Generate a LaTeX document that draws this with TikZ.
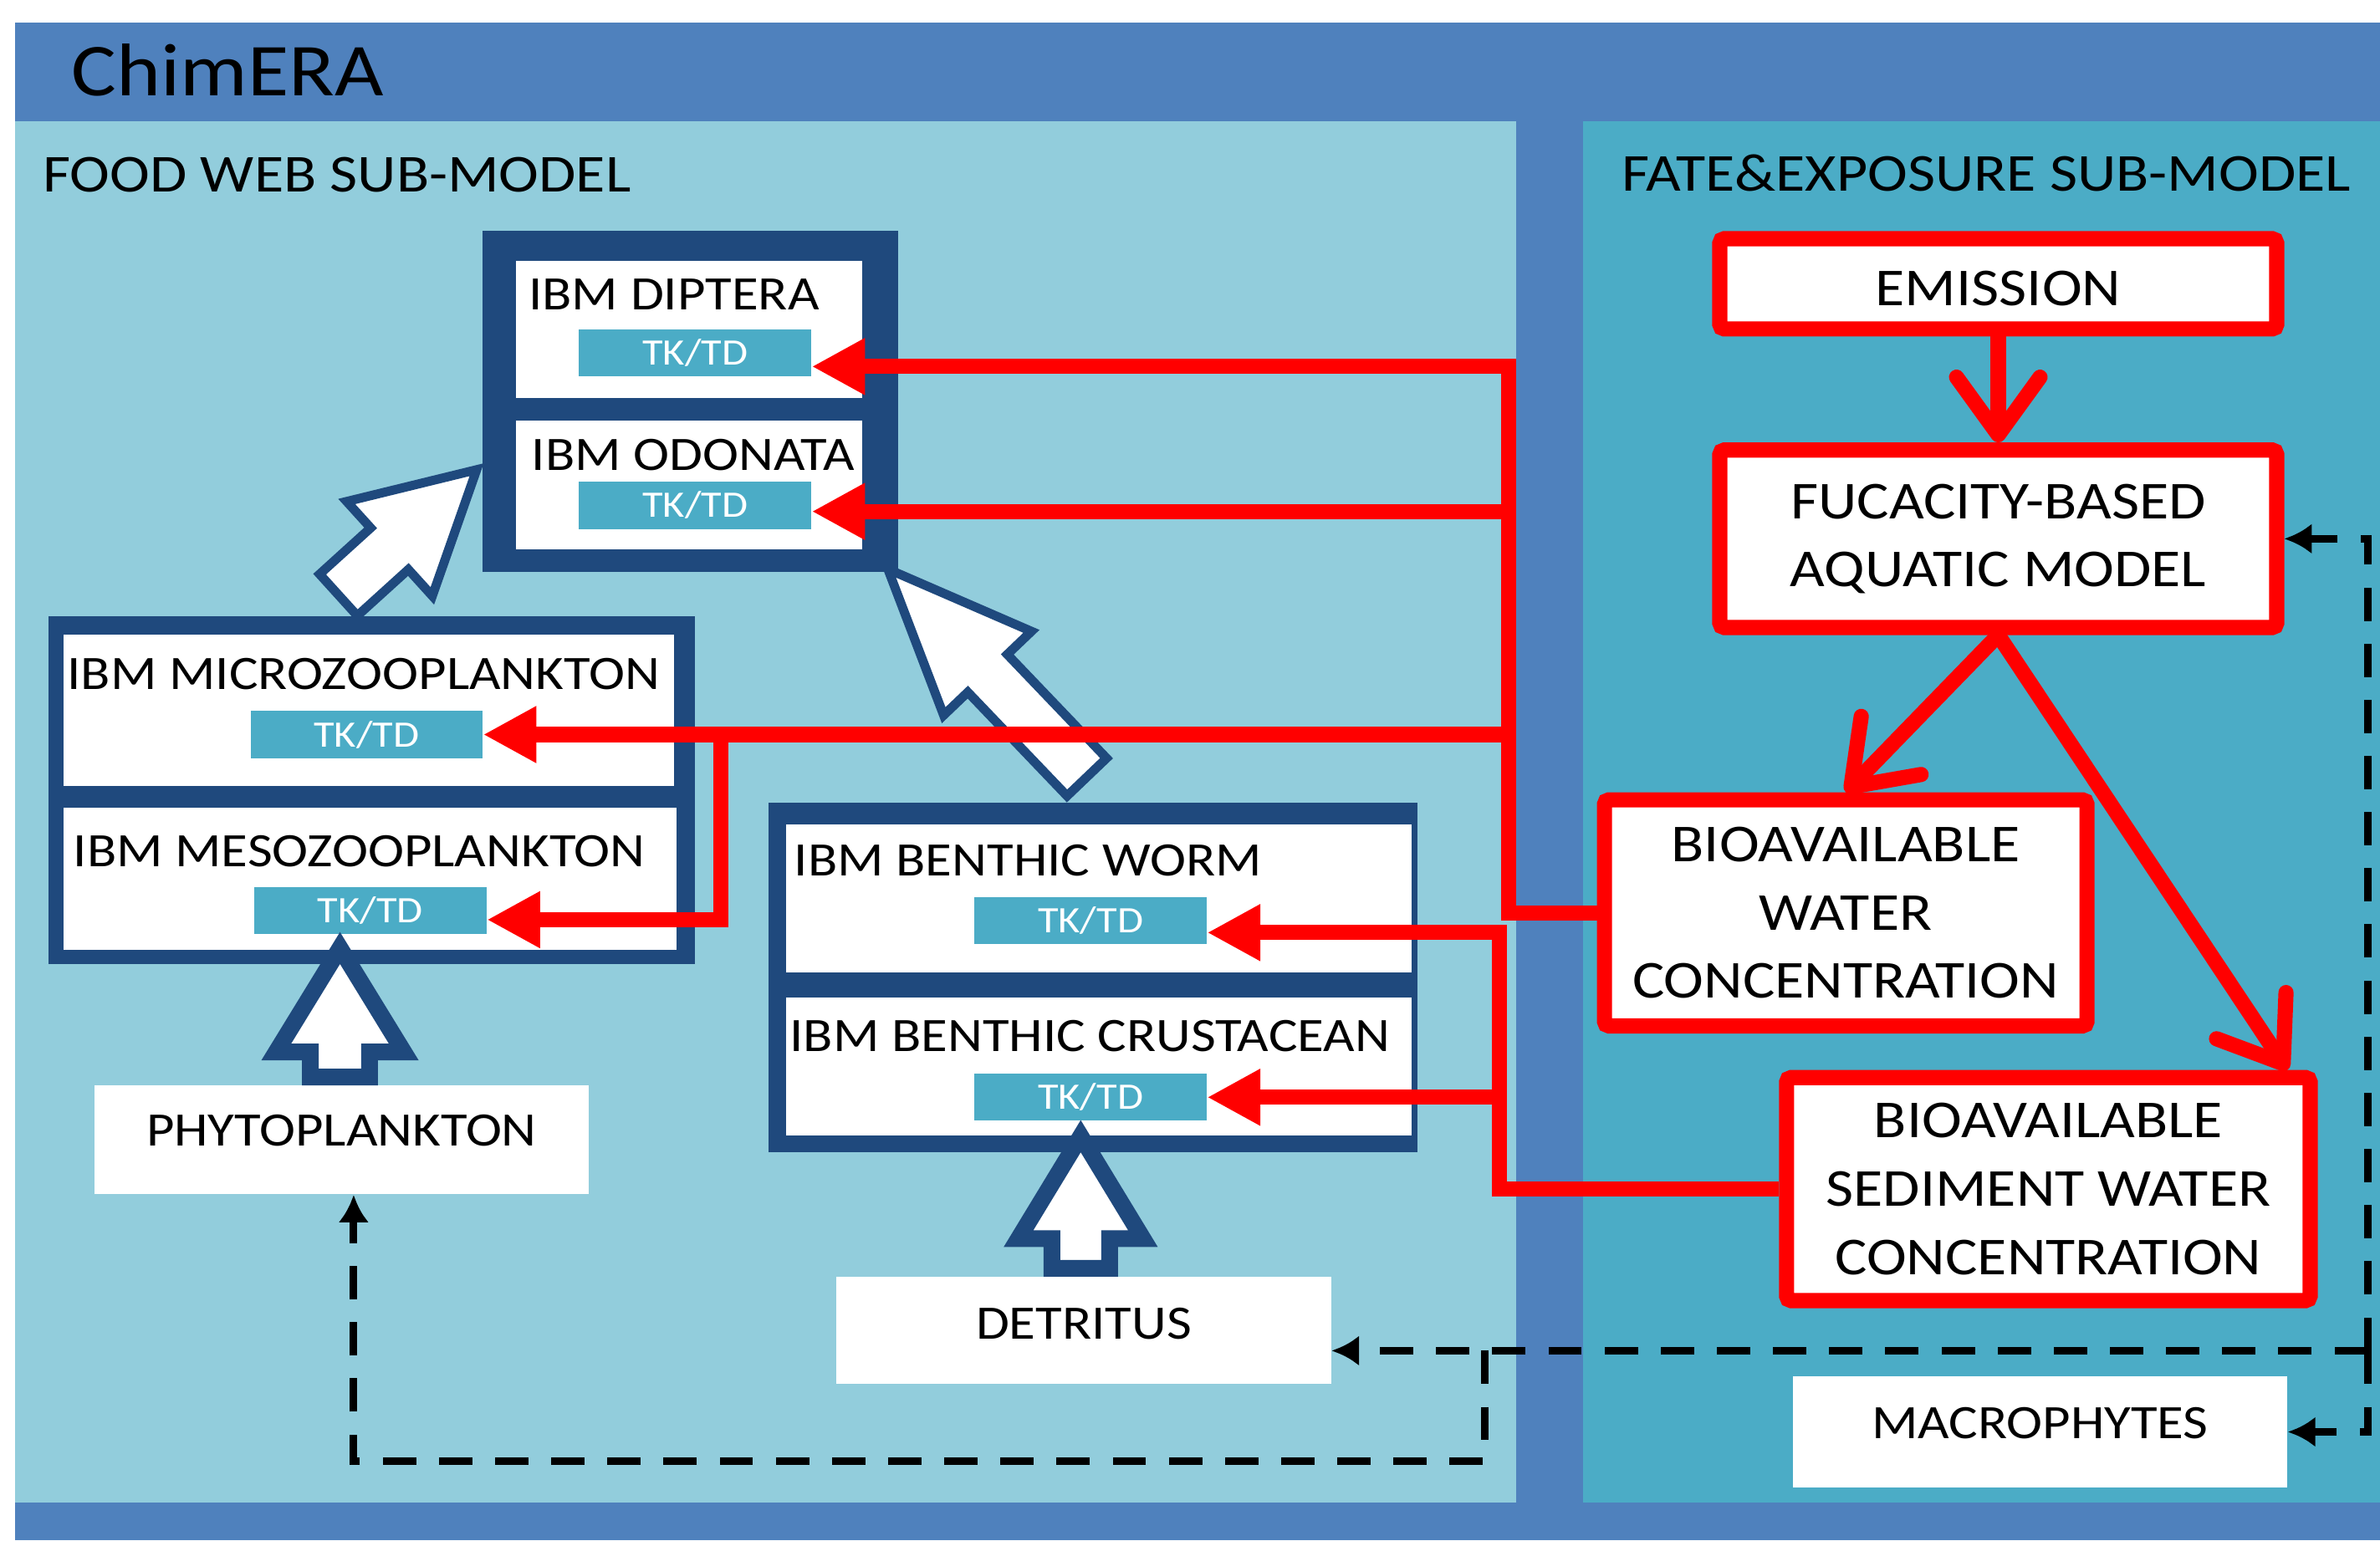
\documentclass[tikz,border=0pt]{standalone}
\usepackage{fontspec}
\setmainfont{Carlito}[FakeStretch=1.13]
\usetikzlibrary{arrows.meta}
\usetikzlibrary{calc}
\usetikzlibrary{positioning}

\definecolor{frameblue}{HTML}{4F81BD}
\definecolor{webpanel}{HTML}{92CDDC}
\definecolor{fatepanel}{HTML}{4BACC6}
\definecolor{ibmnavy}{HTML}{1F497D}
\definecolor{tkblue}{HTML}{4BACC6}

% hollow block arrow: [style]{tail}{tip}{shaft half width}{head half width}{head length}
\newcommand{\fatarrow}[6][]{%
	\coordinate (fa-t) at (#2);
	\coordinate (fa-p) at (#3);
	\coordinate (fa-h) at ($(fa-p)!#6!(fa-t)$);
	\draw[fatarrow,#1] ($(fa-t)!#4!90:(fa-p)$) -- ($(fa-h)!#4!90:(fa-p)$)
		-- ($(fa-h)!#5!90:(fa-p)$) -- (fa-p) -- ($(fa-h)!#5!-90:(fa-p)$)
		-- ($(fa-h)!#4!-90:(fa-p)$) -- ($(fa-t)!#4!-90:(fa-p)$) -- cycle;
}

\begin{document}
\begin{tikzpicture}[x=0.02cm,y=-0.02cm,
	ibmgroup/.style={fill=ibmnavy, inner sep=0, outer sep=0},
	ibmbox/.style={fill=white, inner sep=0, outer sep=0},
	ibmname/.style={font=\fontsize{18}{21.6}\selectfont, inner sep=0, anchor=west},
	tkbox/.style={fill=tkblue, text=white, font=\fontsize{14}{16}\selectfont, inner sep=0, minimum width=3.06cm, minimum height=0.62cm},
	sourcebox/.style={fill=white, font=\fontsize{18}{21.6}\selectfont, inner sep=0, text depth=0.24cm, minimum width=6.52cm, minimum height=1.44cm},
	redbox/.style={draw=red, fill=white, line width=0.2cm, rounded corners=0.06cm, inner sep=0, align=center, font=\fontsize{20}{25.6}\selectfont},
	tkarrow/.style={draw=red, line width=0.2cm, -{Triangle[length=0.7cm,width=0.7cm]}},
	flowarrow/.style={draw=red, line width=0.2cm, line cap=round, -{Straight Barb[length=0.76cm,width=1.1cm,round]}},
	feedback/.style={draw=black, line width=0.1cm, dash pattern=on 0.44cm off 0.3cm, -{Latex[length=0.36cm,width=0.4cm]}},
	fatarrow/.style={draw=ibmnavy, fill=white, line join=miter}]

	\useasboundingbox (0,0) rectangle (1568,1015);
	% panels
	\fill[frameblue] (10,15) rectangle (1568,1015);
	\fill[webpanel] (10,80) rectangle (999,990);
	\fill[fatepanel] (1043,80) rectangle (1568,990);

	\node[inner sep=0, anchor=west, font=\fontsize{28}{33}\selectfont] (title) at (47,46) {ChimERA};
	\node[inner sep=0, anchor=west, font=\fontsize{20}{24}\selectfont] (webtitle) at (28,115) {FOOD WEB SUB-MODEL};
	\node[inner sep=0, anchor=west, font=\fontsize{20}{24}\selectfont] (fatetitle) at (1068,114) {FATE\&EXPOSURE SUB-MODEL};

	% Place IBM groups
	\node[ibmgroup, minimum width=5.48cm, minimum height=4.5cm] (dipgrp) at (455,264.5) {};
	\node[ibmbox, minimum width=4.56cm, minimum height=1.8cm] (dip) at (454,217) {};
	\node[ibmbox, minimum width=4.56cm, minimum height=1.7cm] (odo) at (454,319.5) {};
	\node[ibmname] (diptxt) at (348,194) {IBM DIPTERA};
	\node[ibmname] (odotxt) at (350,299.5) {IBM ODONATA};
	\node[tkbox] (diptk) at (458,232.5) {TK/TD};
	\node[tkbox] (odotk) at (458,333) {TK/TD};

	\node[ibmgroup, minimum width=8.52cm, minimum height=4.58cm] (micgrp) at (245,520.5) {};
	\node[ibmbox, minimum width=8.04cm, minimum height=2cm] (mic) at (243,468) {};
	\node[ibmbox, minimum width=8.08cm, minimum height=1.88cm] (mes) at (244,579) {};
	\node[ibmname] (mictxt) at (44,444) {IBM MICROZOOPLANKTON};
	\node[ibmname] (mestxt) at (48,561) {IBM MESOZOOPLANKTON};
	\node[tkbox] (mictk) at (241.5,484) {TK/TD};
	\node[tkbox] (mestk) at (244,600) {TK/TD};

	\node[ibmgroup, minimum width=8.56cm, minimum height=4.6cm] (bengrp) at (720,644) {};
	\node[ibmbox, minimum width=8.24cm, minimum height=1.96cm] (worm) at (724,592) {};
	\node[ibmbox, minimum width=8.24cm, minimum height=1.82cm] (crust) at (724,702.5) {};
	\node[ibmname] (wormtxt) at (523,567) {IBM BENTHIC WORM};
	\node[ibmname, anchor=center] (crusttxt) at (718,682.5) {IBM BENTHIC CRUSTACEAN};
	\node[tkbox] (wormtk) at (718.5,606.5) {TK/TD};
	\node[tkbox] (crusttk) at (718.5,723) {TK/TD};

	\node[sourcebox] (phyto) at (225,751) {PHYTOPLANKTON};
	\node[sourcebox, minimum height=1.42cm, text depth=0.18cm] (det) at (714,876.5) {DETRITUS};
	\node[sourcebox, minimum height=1.46cm] (macro) at (1344,943.5) {MACROPHYTES};

	% food web arrows
	\fatarrow[line width=0.12cm]{$(micgrp.north)+(-22,-14)$}{$(dipgrp.west)+(-4,45)$}{0.37cm}{0.84cm}{1.55cm}
	\fatarrow[line width=0.12cm]{$(bengrp.north)+(-4,-17)$}{$(dipgrp.south east)+(-7,-2)$}{0.36cm}{0.8cm}{1.9cm}
	\fatarrow[line width=0.22cm]{$(phyto.north)+(-1,-5)$}{$(phyto.north)+(-1,-90)$}{0.39cm}{0.84cm}{1.37cm}
	\fatarrow[line width=0.22cm]{$(det.north)+(-2,-5)$}{$(det.north)+(-2,-92)$}{0.38cm}{0.82cm}{1.35cm}

	% fate and exposure boxes
	\node[redbox, minimum width=7.34cm, minimum height=1.19cm, text height=0.57cm, text depth=0cm] (emis) at (1316.5,187) {EMISSION};
	\node[redbox, minimum width=7.34cm, minimum height=2.34cm] (fuc) at (1316.5,355) {FUCACITY-BASED\\AQUATIC MODEL};
	\node[redbox, minimum width=6.36cm, minimum height=2.98cm] (bw) at (1216,601.5) {BIOAVAILABLE\\WATER\\CONCENTRATION};
	\node[redbox, minimum width=6.9cm, minimum height=2.94cm] (bsw) at (1349.5,783.5) {BIOAVAILABLE\\SEDIMENT WATER\\CONCENTRATION};

	\draw[flowarrow] (emis) -- (fuc);
	\draw[flowarrow] (fuc.south) -- (bw.north);
	\draw[flowarrow] (fuc.south) -- ($(bsw.north east)+(-20,0)$);

	% exposure to TK/TD
	\coordinate (busA) at (994,0);
	\coordinate (busM) at (475,0);
	\coordinate (busB) at (988,0);
	\coordinate (dipin) at ($(diptk.east)+(0,9)$);
	\coordinate (odoin) at ($(odotk.east)+(0,4)$);
	\coordinate (mesin) at ($(mestk.east)+(0,6)$);
	\coordinate (wormin) at ($(wormtk.east)+(0,8)$);
	\draw[tkarrow] (bw.west) -| (busA |- dipin) -- (dipin);
	\draw[tkarrow] (busA |- odoin) -- (odoin);
	\draw[tkarrow] (busA |- mictk.east) -- (mictk.east);
	\draw[tkarrow] (busM |- mictk.east) |- (mesin);
	\draw[tkarrow] (bsw.west) -| (busB |- wormin) -- (wormin);
	\draw[tkarrow] (busB |- crusttk.east) -- (crusttk.east);

	% feedback
	\coordinate (fbtap) at (1560,890);
	\coordinate (fbdrop) at (978,890);
	\coordinate (fbfoot) at (978,963);
	\draw[feedback] (fbtap) |- (fuc.east);
	\draw[feedback] (fbtap) |- (macro.east);
	\draw[feedback] (fbtap) -- (fbtap -| det.east);
	\draw[feedback] (fbdrop) -- (fbfoot) -| ($(phyto.south)+(8,0)$);
\end{tikzpicture}
\end{document}
